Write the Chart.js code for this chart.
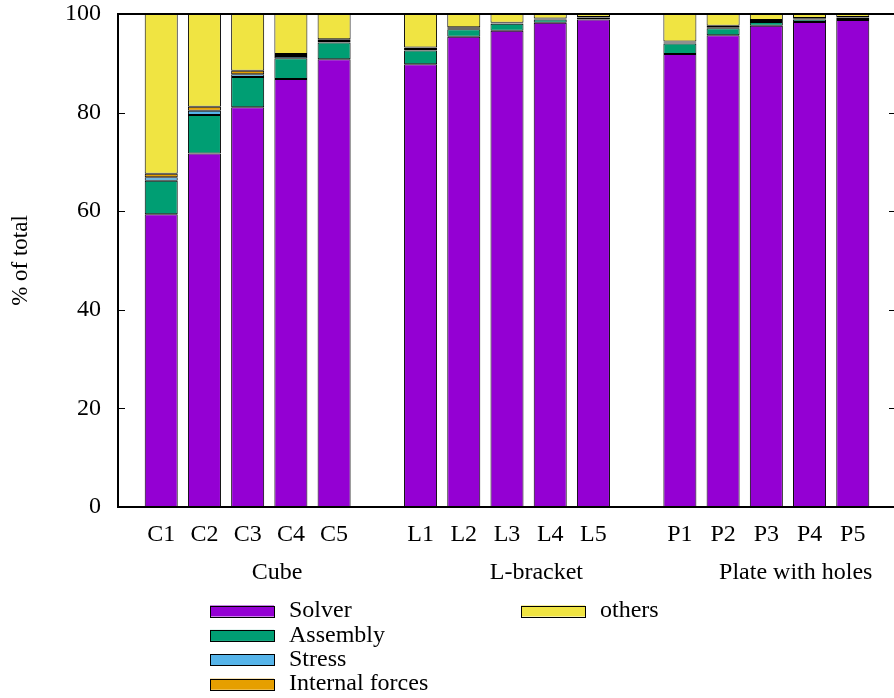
<!DOCTYPE html>
<html><head><meta charset="utf-8">
<script src="https://cdn.jsdelivr.net/npm/chart.js@4.4.1/dist/chart.umd.min.js"></script>
<style>
html,body{margin:0;padding:0;overflow:hidden;background:#fff}
#wrap{position:relative;width:904px;height:698px}
</style>
</head><body>
<div id="wrap"><canvas id="c" width="904" height="698"></canvas></div>
<script>
// ---- data ----
const categories = ['', 'C1','C2','C3','C4','C5', '', 'L1','L2','L3','L4','L5', '', 'P1','P2','P3','P4','P5', ''];
const solver    = [null, 59.4, 71.7, 81.1, 86.8, 90.8, null, 89.8, 95.4, 96.6, 98.2, 98.9, null, 91.9, 95.7, 97.6, 98.4, 98.8, null];
const assembly  = [null,  6.8,  7.8,  6.1,  4.2,  3.4, null,  2.8,  1.5,  1.4,  0.7,  0.3, null,  2.1,  1.4,  0.8,  0.5,  0.4, null];
const stress    = [null,  0.7,  0.9,  0.6,  0.5,  0.3, null,  0.3,  0.2,  0.1,  0.1,  0.1, null,  0.2,  0.2,  0.2, 0.15,  0.1, null];
const internal  = [null,  0.7,  0.8,  0.7,  0.4,  0.4, null,  0.3,  0.2,  0.1,  0.1,  0.1, null,  0.2,  0.3,  0.2, 0.15,  0.1, null];
const others    = [null, 32.4, 18.8, 11.5,  8.1,  5.1, null,  6.8,  2.7,  1.8,  0.9,  0.6, null,  5.6,  2.4,  1.2,  0.8,  0.6, null];
const seriesNames = ['Solver', 'Assembly', 'Stress', 'Internal forces', 'others'];
const groupNames = ['Cube', 'L-bracket', 'Plate with holes'];
const groupCenters = ['C3', 'L3', 'P3'];
const yTicks = [0, 20, 40, 60, 80, 100];

const colors = ['#9400d3', '#009e73', '#56b4e9', '#e69f00', '#f0e442'];
const FONT = "'Liberation Serif', 'Times New Roman', serif";
const FS = 24;

const seriesData = [solver, assembly, stress, internal, others];

const extras = {
  id: 'extras',
  afterDatasetsDraw(chart) {
    const {ctx, chartArea: a, scales: {x, y}} = chart;
    ctx.save();
    // frame
    ctx.strokeStyle = '#000';
    ctx.lineWidth = 2;
    ctx.strokeRect(a.left, a.top, a.right - a.left, a.bottom - a.top);
    // inward ticks (left and mirrored right)
    ctx.lineWidth = 1;
    yTicks.forEach(v => {
      const py = Math.round(y.getPixelForValue(v)) + 0.5;
      ctx.beginPath();
      ctx.moveTo(a.left, py); ctx.lineTo(a.left + 7, py);
      ctx.moveTo(a.right, py); ctx.lineTo(a.right - 7, py);
      ctx.stroke();
    });
    // group labels
    ctx.fillStyle = '#000';
    ctx.font = FS + 'px ' + FONT;
    ctx.textAlign = 'center';
    ctx.textBaseline = 'middle';
    groupNames.forEach((g, i) => {
      const idx = categories.indexOf(groupCenters[i]);
      ctx.fillText(g, x.getPixelForValue(idx + 0.68), a.bottom + 66);
    });
    // legend (gnuplot style, 4 rows per column)
    const colX = [210, 521], row0 = 611, rowH = 24.4, swW = 64, swH = 11;
    chart.data.datasets.forEach((ds, i) => {
      const col = Math.floor(i / 4), row = i % 4;
      const sx = colX[col], cy = row0 + row * rowH;
      ctx.fillStyle = ds.backgroundColor;
      ctx.fillRect(sx, cy - swH / 2, swW, swH);
      ctx.strokeStyle = '#000';
      ctx.lineWidth = 1;
      ctx.strokeRect(sx + 0.5, Math.round(cy - swH / 2) + 0.5, swW, swH);
      ctx.fillStyle = '#000';
      ctx.textAlign = 'left';
      ctx.fillText(ds.label, sx + swW + 15, cy);
    });
    ctx.restore();
  }
};

new Chart(document.getElementById('c'), {
  type: 'bar',
  data: {
    labels: categories,
    datasets: seriesNames.map((n, i) => ({
      label: n,
      data: seriesData[i],
      backgroundColor: colors[i],
      borderColor: '#000',
      borderWidth: 1,
      borderSkipped: false,
      barPercentage: 0.764,
      categoryPercentage: 1
    }))
  },
  options: {
    responsive: false,
    animation: false,
    layout: {padding: {top: 14, left: 0, right: 8, bottom: 0}},
    plugins: {legend: {display: false}, tooltip: {enabled: false}},
    scales: {
      x: {
        stacked: true,
        offset: false,
        grid: {display: false},
        border: {display: false},
        ticks: {autoSkip: false, maxRotation: 0, minRotation: 0, padding: 5, color: '#000', font: {family: FONT, size: FS}},
        afterFit: s => { s.height = 191; s.paddingLeft = 0; s.paddingRight = 0; }
      },
      y: {
        stacked: true,
        min: 0, max: 100,
        grid: {display: false},
        border: {display: false},
        afterBuildTicks: s => { s.ticks = yTicks.map(v => ({value: v})); },
        ticks: {padding: 9, color: '#000', font: {family: FONT, size: FS}},
        title: {display: true, text: '% of total', color: '#000', padding: {top: 7, bottom: 0}, font: {family: FONT, size: 23}},
        afterFit: s => { s.width = 118; s.paddingTop = 0; s.paddingBottom = 0; }
      }
    }
  },
  plugins: [extras]
});
</script>
</body></html>
